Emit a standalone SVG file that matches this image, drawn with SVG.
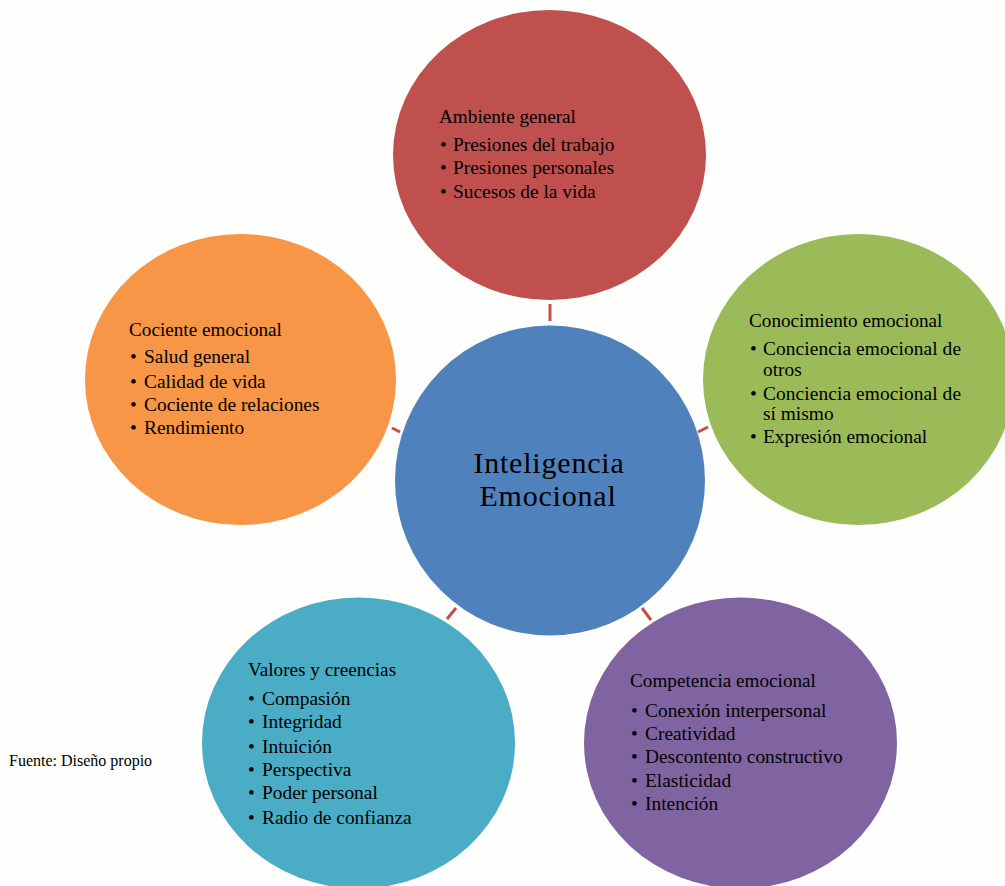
<svg xmlns="http://www.w3.org/2000/svg" width="1005" height="886" viewBox="0 0 1005 886">
  <style>
    text { font-family: "Liberation Serif", "Times New Roman", serif; fill: #000; }
    .title { font-size: 19.2px; }
    .item { font-size: 19.4px; }
    .center { font-size: 30px; letter-spacing: 0.8px; }
    .src { font-size: 16px; }
    .link { stroke: #C0504D; stroke-width: 3; fill: none; }
  </style>
  <rect width="1005" height="886" fill="#FEFEFC"/>

  <!-- spokes between the hub and the surrounding ellipses -->
  <g id="connectors">
    <line class="link" x1="550" y1="304" x2="550" y2="321"/>
    <line class="link" x1="698" y1="432" x2="708" y2="427"/>
    <line class="link" x1="392" y1="428" x2="400" y2="432"/>
    <line class="link" x1="447" y1="619" x2="456" y2="608"/>
    <line class="link" x1="642" y1="608" x2="651" y2="620"/>
  </g>

  <g id="ambiente">
    <ellipse cx="549.5" cy="155" rx="156.5" ry="145" fill="#C0504D"/>
    <text class="title" x="439" y="123">Ambiente general</text>
    <text class="item" x="440" y="151">•</text><text class="item" x="453" y="151">Presiones del trabajo</text>
    <text class="item" x="440" y="174">•</text><text class="item" x="453" y="174">Presiones personales</text>
    <text class="item" x="440" y="198">•</text><text class="item" x="453" y="198">Sucesos de la vida</text>
  </g>

  <g id="conocimiento">
    <ellipse cx="858.5" cy="379.5" rx="155.5" ry="145.5" fill="#9BBB59"/>
    <text class="title" x="749" y="327">Conocimiento emocional</text>
    <text class="item" x="750" y="355">•</text><text class="item" x="763" y="355" textLength="198" lengthAdjust="spacing">Conciencia emocional de</text>
    <text class="item" x="763" y="376">otros</text>
    <text class="item" x="750" y="400">•</text><text class="item" x="763" y="400" textLength="198" lengthAdjust="spacing">Conciencia emocional de</text>
    <text class="item" x="763" y="420">sí mismo</text>
    <text class="item" x="750" y="443">•</text><text class="item" x="763" y="443">Expresión emocional</text>
  </g>

  <g id="cociente">
    <ellipse cx="240.5" cy="379.5" rx="155.5" ry="145.5" fill="#F79646"/>
    <text class="title" x="129" y="336">Cociente emocional</text>
    <text class="item" x="130" y="363">•</text><text class="item" x="144" y="363">Salud general</text>
    <text class="item" x="130" y="388">•</text><text class="item" x="144" y="388">Calidad de vida</text>
    <text class="item" x="130" y="411">•</text><text class="item" x="144" y="411">Cociente de relaciones</text>
    <text class="item" x="130" y="434">•</text><text class="item" x="144" y="434">Rendimiento</text>
  </g>

  <g id="valores">
    <ellipse cx="358.5" cy="743" rx="156.5" ry="145.5" fill="#4BACC6"/>
    <text class="title" x="248" y="676">Valores y creencias</text>
    <text class="item" x="248" y="705">•</text><text class="item" x="262" y="705">Compasión</text>
    <text class="item" x="248" y="728">•</text><text class="item" x="262" y="728">Integridad</text>
    <text class="item" x="248" y="753">•</text><text class="item" x="262" y="753">Intuición</text>
    <text class="item" x="248" y="776">•</text><text class="item" x="262" y="776">Perspectiva</text>
    <text class="item" x="248" y="799">•</text><text class="item" x="262" y="799">Poder personal</text>
    <text class="item" x="248" y="824">•</text><text class="item" x="262" y="824">Radio de confianza</text>
  </g>

  <g id="competencia">
    <ellipse cx="740.5" cy="743" rx="156.5" ry="145.5" fill="#8064A2"/>
    <text class="title" x="630" y="687">Competencia emocional</text>
    <text class="item" x="631" y="717">•</text><text class="item" x="645" y="717">Conexión interpersonal</text>
    <text class="item" x="631" y="740">•</text><text class="item" x="645" y="740">Creatividad</text>
    <text class="item" x="631" y="763">•</text><text class="item" x="645" y="763">Descontento constructivo</text>
    <text class="item" x="631" y="787">•</text><text class="item" x="645" y="787">Elasticidad</text>
    <text class="item" x="631" y="810">•</text><text class="item" x="645" y="810">Intención</text>
  </g>

  <g id="hub">
    <circle cx="550" cy="480.5" r="155" fill="#4F81BD"/>
    <text class="center" x="549" y="473" text-anchor="middle">Inteligencia</text>
    <text class="center" x="548" y="506" text-anchor="middle">Emocional</text>
  </g>

  <text class="src" x="9" y="766">Fuente: Diseño propio</text>
</svg>
